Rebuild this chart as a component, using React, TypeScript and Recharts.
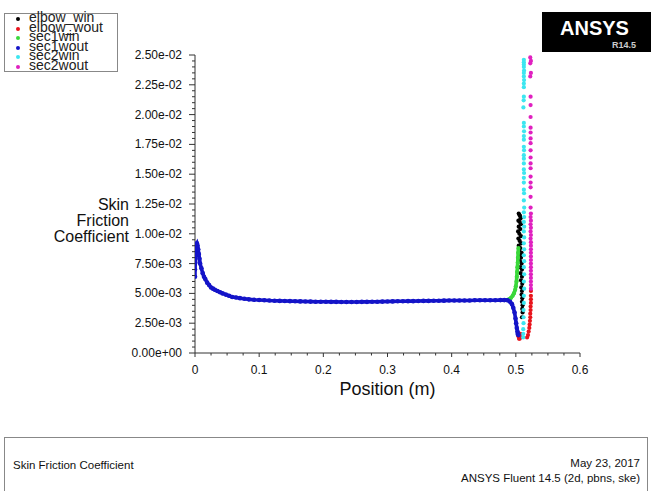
import { ScatterChart, Scatter, XAxis, YAxis } from 'recharts';

type Pt = [number, number];

// elbow inner wall
const elbowWin: Pt[] = [
  [0.5045, 0.0117], [0.5055, 0.0116], [0.5065, 0.0115], [0.5075, 0.0113], [0.504, 0.0111],
  [0.506, 0.011], [0.508, 0.0108], [0.5045, 0.0106], [0.507, 0.0104], [0.5035, 0.0102],
  [0.5055, 0.01], [0.508, 0.0098], [0.504, 0.0096], [0.506, 0.0094], [0.5085, 0.0092],
  [0.5045, 0.009], [0.507, 0.0088], [0.5055, 0.0086], [0.509, 0.0084], [0.506, 0.0082],
  [0.508, 0.008], [0.5065, 0.0077], [0.509, 0.0075], [0.507, 0.0072], [0.5095, 0.007],
  [0.5075, 0.0067], [0.5095, 0.0064], [0.508, 0.0061], [0.51, 0.0058], [0.5085, 0.0055],
  [0.5095, 0.0052], [0.509, 0.0049], [0.51, 0.0046], [0.5095, 0.0043], [0.5105, 0.004],
  [0.51, 0.0037], [0.5105, 0.0034], [0.5095, 0.003],
];

const elbowWout: Pt[] = [
  [0.5035, 0.0017], [0.504, 0.0014], [0.505, 0.0012], [0.506, 0.0012], [0.507, 0.0013],
  [0.5075, 0.0016], [0.5175, 0.0013], [0.519, 0.0015], [0.52, 0.0018], [0.521, 0.0021],
  [0.5215, 0.0024], [0.522, 0.0027], [0.5225, 0.003], [0.5225, 0.0033], [0.523, 0.0036],
  [0.523, 0.0039], [0.5235, 0.0042], [0.5235, 0.0045], [0.5235, 0.0048], [0.5235, 0.0052],
];

const sec1win: Pt[] = [
  [0.486, 0.00444], [0.489, 0.0045], [0.492, 0.0046], [0.495, 0.0048], [0.497, 0.005],
  [0.499, 0.0053], [0.5, 0.0056], [0.501, 0.006], [0.5015, 0.0064], [0.502, 0.0068],
  [0.5025, 0.0072], [0.503, 0.0076], [0.5033, 0.008], [0.5036, 0.0084], [0.504, 0.0088],
];

const sec1wout: Pt[] = [
  [0, 0.0064], [0, 0.007], [0.0005, 0.0076], [0.001, 0.0082], [0.0015, 0.0087], [0.002, 0.0091],
  [0.003, 0.0092], [0.004, 0.009], [0.005, 0.0087], [0.006, 0.0083], [0.007, 0.0079],
  [0.008, 0.0075], [0.01, 0.0071], [0.012, 0.0067], [0.014, 0.0064], [0.016, 0.0062],
  [0.019, 0.0059], [0.022, 0.0057], [0.025, 0.0055], [0.028, 0.0054], [0.031, 0.0053],
  [0.035, 0.0052], [0.039, 0.0051], [0.043, 0.005], [0.048, 0.0049], [0.053, 0.0048],
  [0.058, 0.0047], [0.064, 0.00465], [0.07, 0.0046], [0.077, 0.00455], [0.084, 0.0045],
  [0.092, 0.00447], [0.1, 0.00445], [0.108, 0.00443], [0.116, 0.0044], [0.124, 0.00438],
  [0.132, 0.00437], [0.14, 0.00436], [0.148, 0.00435], [0.156, 0.00434], [0.164, 0.00433],
  [0.172, 0.00432], [0.18, 0.00431], [0.188, 0.0043], [0.196, 0.0043], [0.204, 0.0043],
  [0.212, 0.00429], [0.22, 0.00429], [0.228, 0.00428], [0.236, 0.00428], [0.244, 0.00428],
  [0.252, 0.00428], [0.26, 0.00429], [0.268, 0.00429], [0.276, 0.0043], [0.284, 0.0043],
  [0.292, 0.00431], [0.3, 0.00432], [0.308, 0.00433], [0.316, 0.00434], [0.324, 0.00434],
  [0.332, 0.00435], [0.34, 0.00435], [0.348, 0.00436], [0.356, 0.00437], [0.364, 0.00437],
  [0.372, 0.00438], [0.38, 0.00438], [0.388, 0.00439], [0.396, 0.0044], [0.404, 0.0044],
  [0.412, 0.0044], [0.42, 0.00441], [0.428, 0.00441], [0.436, 0.00442], [0.444, 0.00442],
  [0.452, 0.00443], [0.46, 0.00443], [0.468, 0.00443], [0.476, 0.00444], [0.482, 0.00444],
  [0.487, 0.00443], [0.491, 0.0043], [0.494, 0.0041], [0.496, 0.0038], [0.498, 0.0034],
  [0.4995, 0.0029], [0.5005, 0.0025], [0.5015, 0.0021], [0.5025, 0.0018], [0.503, 0.0016],
  [0.504, 0.0015],
];

const sec2win: Pt[] = [
  [0.5125, 0.0246], [0.5125, 0.0244], [0.5125, 0.0242], [0.5125, 0.024], [0.5128, 0.0237],
  [0.5125, 0.0235], [0.5125, 0.0232], [0.5128, 0.0229], [0.5125, 0.0226], [0.5125, 0.0223],
  [0.5125, 0.0215], [0.5122, 0.0212], [0.5118, 0.0206], [0.5125, 0.0193], [0.5125, 0.019],
  [0.5128, 0.0186], [0.5125, 0.0182], [0.5125, 0.0179], [0.5125, 0.0173], [0.5128, 0.017],
  [0.5125, 0.0166], [0.5125, 0.0163], [0.5125, 0.0159], [0.5125, 0.0154], [0.5128, 0.0151],
  [0.5125, 0.0147], [0.5125, 0.0143], [0.5125, 0.0137], [0.5128, 0.0134], [0.5125, 0.0128],
  [0.513, 0.0122], [0.5125, 0.0118], [0.513, 0.0114], [0.5125, 0.011], [0.513, 0.0106],
  [0.5125, 0.0102], [0.513, 0.0097], [0.5125, 0.0092], [0.513, 0.0087], [0.5125, 0.0082],
  [0.513, 0.0077], [0.5125, 0.0072], [0.513, 0.0066], [0.5125, 0.006], [0.513, 0.0054],
  [0.5125, 0.0048], [0.5125, 0.0042], [0.512, 0.0036], [0.512, 0.003], [0.512, 0.0025],
  [0.5115, 0.002], [0.5115, 0.0016], [0.5115, 0.0013],
];

const sec2wout: Pt[] = [
  [0.5225, 0.0248], [0.5235, 0.0245], [0.5225, 0.0243], [0.5235, 0.0235], [0.5225, 0.0232],
  [0.523, 0.0215], [0.523, 0.0208], [0.523, 0.0198], [0.523, 0.0189], [0.523, 0.0185],
  [0.523, 0.018], [0.523, 0.0176], [0.523, 0.017], [0.523, 0.0164], [0.523, 0.0159],
  [0.523, 0.0155], [0.523, 0.0148], [0.523, 0.0143], [0.523, 0.0139], [0.523, 0.0131],
  [0.523, 0.0122], [0.5235, 0.0117], [0.523, 0.0114], [0.5235, 0.0111], [0.523, 0.0108],
  [0.5235, 0.0105], [0.523, 0.0102], [0.5235, 0.0099], [0.523, 0.0096], [0.5235, 0.0093],
  [0.5235, 0.009], [0.5235, 0.0087], [0.5235, 0.0084], [0.5235, 0.0081], [0.5235, 0.0078],
  [0.5235, 0.0075], [0.5235, 0.0072], [0.5235, 0.0069], [0.5235, 0.0066], [0.5235, 0.0063],
  [0.5235, 0.006], [0.5235, 0.0057], [0.5235, 0.0054],
];

const seriesNames = ['elbow_win', 'elbow_wout', 'sec1win', 'sec1wout', 'sec2win', 'sec2wout'];
const seriesColors = ['#000000', '#e8141c', '#3ad83a', '#1414c8', '#3ce6f0', '#e020c0'];
const seriesData = [elbowWin, elbowWout, sec1win, sec1wout, sec2win, sec2wout];

const xMajorTicks = [0, 0.1, 0.2, 0.3, 0.4, 0.5, 0.6];
const xTickLabels = ['0', '0.1', '0.2', '0.3', '0.4', '0.5', '0.6'];
const yMajorTicks = [0, 0.0025, 0.005, 0.0075, 0.01, 0.0125, 0.015, 0.0175, 0.02, 0.0225, 0.025];
const yTickLabels = [
  '0.00e+00', '2.50e-03', '5.00e-03', '7.50e-03', '1.00e-02', '1.25e-02',
  '1.50e-02', '1.75e-02', '2.00e-02', '2.25e-02', '2.50e-02',
];

const FONT = '"Liberation Sans", Arial, sans-serif';

// axis decoration: minor ticks between the majors
function withMinor(major: number[], parts: number) {
  const out: number[] = [];
  for (let i = 0; i < major.length - 1; i++) {
    const step = (major[i + 1] - major[i]) / parts;
    for (let k = 0; k < parts; k++) out.push(+(major[i] + k * step).toFixed(6));
  }
  out.push(major[major.length - 1]);
  return out;
}

const xTicks = withMinor(xMajorTicks, 4);
const yTicks = withMinor(yMajorTicks, 5);

function labelFor(value: number, majors: number[], labels: string[]) {
  const i = majors.findIndex((m) => Math.abs(m - value) < 1e-9);
  return i >= 0 ? labels[i] : null;
}

function XTick(props: any) {
  const { x, y, payload } = props;
  const lbl = labelFor(payload.value, xMajorTicks, xTickLabels);
  return (
    <g>
      <line x1={x} x2={x} y1={y} y2={y + (lbl ? 4 : 2.5)} stroke="#333" />
      {lbl && (
        <text x={x} y={y + 21} textAnchor="middle" fontSize={12} fontFamily={FONT} fill="#111">
          {lbl}
        </text>
      )}
    </g>
  );
}

function YTick(props: any) {
  const { x, y, payload } = props;
  const lbl = labelFor(payload.value, yMajorTicks, yTickLabels);
  return (
    <g>
      <line x1={x - (lbl ? 6 : 3)} x2={x} y1={y} y2={y} stroke="#333" />
      {lbl && (
        <text x={x - 13} y={y + 4} textAnchor="end" fontSize={12} fontFamily={FONT} fill="#111">
          {lbl}
        </text>
      )}
    </g>
  );
}

function Dot(color: string, r: number) {
  return (p: any) => <circle cx={p.cx} cy={p.cy} r={r} fill={color} />;
}

export default function App() {
  return (
    <div style={{ position: 'absolute', left: 0, top: 0, width: 651, height: 491, background: '#fff', fontFamily: FONT, overflow: 'hidden' }}>
      <ScatterChart width={651} height={491} margin={{ top: 55, right: 71, bottom: 108, left: 115 }}>
        <XAxis
          type="number"
          dataKey="x"
          domain={[0, 0.6]}
          ticks={xTicks}
          interval={0}
          tickSize={0}
          tickMargin={0}
          tickLine={false}
          tick={<XTick />}
          height={30}
          stroke="#333"
          allowDataOverflow
        />
        <YAxis
          type="number"
          dataKey="y"
          domain={[0, 0.025]}
          ticks={yTicks}
          interval={0}
          tickSize={0}
          tickMargin={0}
          tickLine={false}
          tick={<YTick />}
          width={80}
          stroke="#333"
          allowDataOverflow
        />
        {seriesData.map((d, i) => (
          <Scatter
            key={seriesNames[i]}
            name={seriesNames[i]}
            data={d.map(([x, y]) => ({ x, y }))}
            fill={seriesColors[i]}
            shape={Dot(seriesColors[i], i === 3 ? 2.3 : 2.1)}
            line={i === 2 || i === 3 ? { stroke: seriesColors[i], strokeWidth: 3.6 } : false}
            lineType="joint"
            isAnimationActive={false}
          />
        ))}
      </ScatterChart>

      {/* legend */}
      <div style={{ position: 'absolute', left: 4, top: 13, width: 112, height: 57, border: '1px solid #888', background: '#fff' }}>
        {seriesNames.map((n, i) => (
          <div key={n} style={{ position: 'relative', height: 9.6, lineHeight: '9.6px', fontSize: 14, color: '#222', whiteSpace: 'nowrap' }}>
            <span style={{ position: 'absolute', left: 11, top: 3, width: 4, height: 4, borderRadius: 2, background: seriesColors[i] }} />
            <span style={{ position: 'absolute', left: 24, top: -1 }}>{n}</span>
          </div>
        ))}
      </div>

      {/* logo */}
      <div style={{ position: 'absolute', left: 542, top: 12, width: 109, height: 40, background: '#000', color: '#fff' }}>
        <div style={{ position: 'absolute', left: 18, top: 6, fontSize: 20, fontWeight: 'bold', lineHeight: '20px' }}>ANSYS</div>
        <div style={{ position: 'absolute', left: 70, top: 28, fontSize: 9, fontWeight: 'bold', color: '#ccc', lineHeight: '10px' }}>R14.5</div>
      </div>

      {/* axis titles */}
      <div style={{ position: 'absolute', right: 651 - 129, top: 197, textAlign: 'right', fontSize: 16, lineHeight: '16px', color: '#111' }}>
        Skin<br />Friction<br />Coefficient
      </div>
      <div style={{ position: 'absolute', left: 290, width: 195, top: 379, textAlign: 'center', fontSize: 18, color: '#111' }}>
        Position (m)
      </div>

      {/* footer box */}
      <div style={{ position: 'absolute', left: 4, top: 437, width: 642, height: 70, border: '1px solid #888' }}>
        <div style={{ position: 'absolute', left: 8, top: 21, fontSize: 11.5, color: '#111' }}>Skin Friction Coefficient</div>
        <div style={{ position: 'absolute', right: 7, top: 18, fontSize: 11.5, color: '#111', textAlign: 'right', lineHeight: '15px' }}>
          May 23, 2017<br />ANSYS Fluent 14.5 (2d, pbns, ske)
        </div>
      </div>
    </div>
  );
}
